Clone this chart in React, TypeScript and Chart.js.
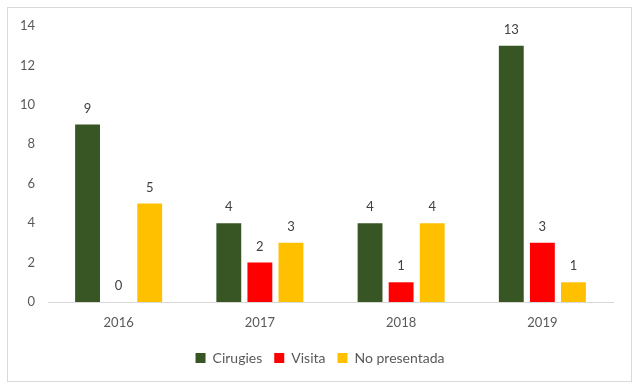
import React, { useEffect, useRef } from "react";
import { Chart, registerables } from "chart.js";

Chart.register(...registerables);

const categories = ["2016", "2017", "2018", "2019"];
const cirugies = [9, 4, 4, 13];
const visita = [0, 2, 1, 3];
const noPresentada = [5, 3, 4, 1];
const yTicks = [0, 2, 4, 6, 8, 10, 12, 14];

const FONT = "Lato, 'Open Sans', sans-serif";
const TEXT = "#595959";

const dataLabels = {
  id: "dataLabels",
  afterDatasetsDraw(chart: any) {
    const ctx = chart.ctx;
    ctx.save();
    ctx.font = `13px ${FONT}`;
    ctx.fillStyle = "#404040";
    ctx.textAlign = "center";
    ctx.textBaseline = "middle";
    chart.data.datasets.forEach((ds: any, i: number) => {
      const meta = chart.getDatasetMeta(i);
      meta.data.forEach((bar: any, j: number) => {
        ctx.fillText(String(ds.data[j]), bar.x, bar.y - 16);
      });
    });
    ctx.restore();
  },
};

export default function App() {
  const ref = useRef<HTMLCanvasElement | null>(null);
  useEffect(() => {
    if (!ref.current) return;
    const chart = new Chart(ref.current, {
      type: "bar",
      data: {
        labels: categories,
        datasets: [
          { label: "Cirugies", data: cirugies, backgroundColor: "#375623" },
          { label: "Visita", data: visita, backgroundColor: "#FF0000" },
          { label: "No presentada", data: noPresentada, backgroundColor: "#FFC000" },
        ],
      },
      options: {
        animation: false,
        responsive: false,
        maintainAspectRatio: false,
        devicePixelRatio: 1,
        layout: { padding: { top: 26, right: 0, bottom: 14, left: 0 } },
        datasets: { bar: { categoryPercentage: 0.66, barPercentage: 0.8 } } as any,
        plugins: {
          legend: {
            position: "bottom",
            labels: {
              boxWidth: 10,
              boxHeight: 10,
              padding: 12,
              color: TEXT,
              font: { family: FONT, size: 14 },
            },
          },
          tooltip: { enabled: false },
        },
        scales: {
          x: {
            grid: { display: false, drawTicks: false },
            border: { display: true, color: "#d9d9d9" },
            ticks: { color: TEXT, font: { family: FONT, size: 13 }, padding: 13 },
            afterFit: (s: any) => { s.height = 37; },
          },
          y: {
            min: 0,
            max: 14,
            afterBuildTicks: (s: any) => { s.ticks = yTicks.map((v) => ({ value: v })); },
            grid: { display: false, drawTicks: false },
            border: { display: false },
            ticks: { color: TEXT, font: { family: FONT, size: 13 }, padding: 13 },
            afterFit: (s: any) => { s.width = 48; },
          },
          yRight: {
            position: "right",
            min: 0,
            max: 14,
            grid: { display: false, drawTicks: false },
            border: { display: false },
            ticks: { display: false },
            afterFit: (s: any) => { s.width = 27; },
          },
        },
      },
      plugins: [dataLabels],
    });
    return () => chart.destroy();
  }, []);
  return (
    <div style={{ position: "fixed", left: 0, top: 0, width: 640, height: 389, background: "#fff" }}>
      <div style={{ position: "absolute", left: 7, top: 7, width: 623, height: 373, border: "1px solid #d9d9d9" }} />
      <canvas ref={ref} width={640} height={389} style={{ position: "absolute", left: 0, top: 0 }} />
    </div>
  );
}
